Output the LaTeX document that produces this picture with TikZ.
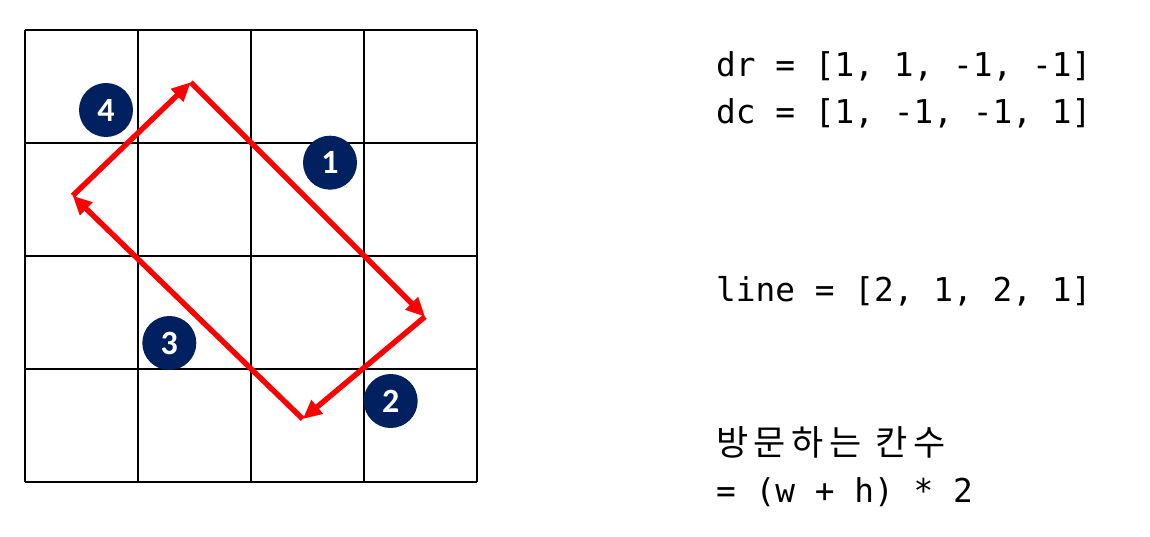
\documentclass[tikz,border=0pt]{standalone}
\usepackage{fontspec}
\setmonofont{DejaVu Sans Mono}
\newfontfamily\korfont[LetterSpace=16]{Noto Sans CJK KR}
\newfontfamily\numfont{Carlito}
\usepackage{xcolor}
\usepackage{tikz}
\usetikzlibrary{arrows.meta}
\usetikzlibrary{positioning}
\definecolor{navydot}{HTML}{002060}

\begin{document}
\begin{tikzpicture} [
            x = 1pt, y = -1pt,
            % ----- Style definitions ----- %
            gridline/.style = {
                draw = black,
                line width = 1.6pt
            },
            walkarrow/.style = {
                draw = red,
                line width = 5.4pt,
                -{Triangle[length=19pt, width=17pt]}
            },
            numdot/.style = {
                circle,
                fill = navydot,
                minimum size = 54pt,
                inner sep = 0pt,
                text = white,
                font = \numfont\bfseries\fontsize{34}{34}\selectfont
            },
            codetext/.style = {
                anchor = base west,
                inner sep = 0pt,
                font = \ttfamily\fontsize{32.8}{40}\selectfont
            },
    ]

            % ----- Canvas ----- %
        \useasboundingbox (0,0) rectangle (1150,537);

            % ----- Grid ----- %
        \foreach \k in {0,...,4} {
            \draw [gridline] (25+113*\k, 30) -- (25+113*\k, 482);
            \draw [gridline] (25, 30+113*\k) -- (477, 30+113*\k);
        }

            % ----- Corners of the walk ----- %
        \coordinate (top)    at (190.7, 82.3);
        \coordinate (right)  at (425, 316.7);
        \coordinate (bottom) at (302.7, 419);
        \coordinate (left)   at (72.7, 195.7);

        \draw [walkarrow] (top) -- (right);
        \draw [walkarrow] (right) -- (bottom);
        \draw [walkarrow] (bottom) -- (left);
        \draw [walkarrow] (left) -- (top);

            % ----- Step numbers ----- %
        \node [numdot] (one)   at (330, 162.7) {1};
        \node [numdot] (two)   at (390.7, 401) {2};
        \node [numdot] (three) at (169.3, 343) {3};
        \node [numdot] (four)  at (106, 110)   {4};

            % ----- Code text ----- %
        \node [codetext] (dr)   at (716, 76.5)  {dr = [1, 1, -1, -1]};
        \node [codetext] (dc)   at (716, 123.5) {dc = [1, -1, -1, 1]};
        \node [codetext] (line) at (716, 301)   {line = [2, 1, 2, 1]};
        \node [anchor=base west, inner sep=0pt,
               font=\korfont\fontsize{35}{40}\selectfont]
              (visit) at (716, 455) {방문하는 칸수};
        \node [codetext] (formula) at (716, 502) {= (w + h) * 2};

\end{tikzpicture}
\end{document}
